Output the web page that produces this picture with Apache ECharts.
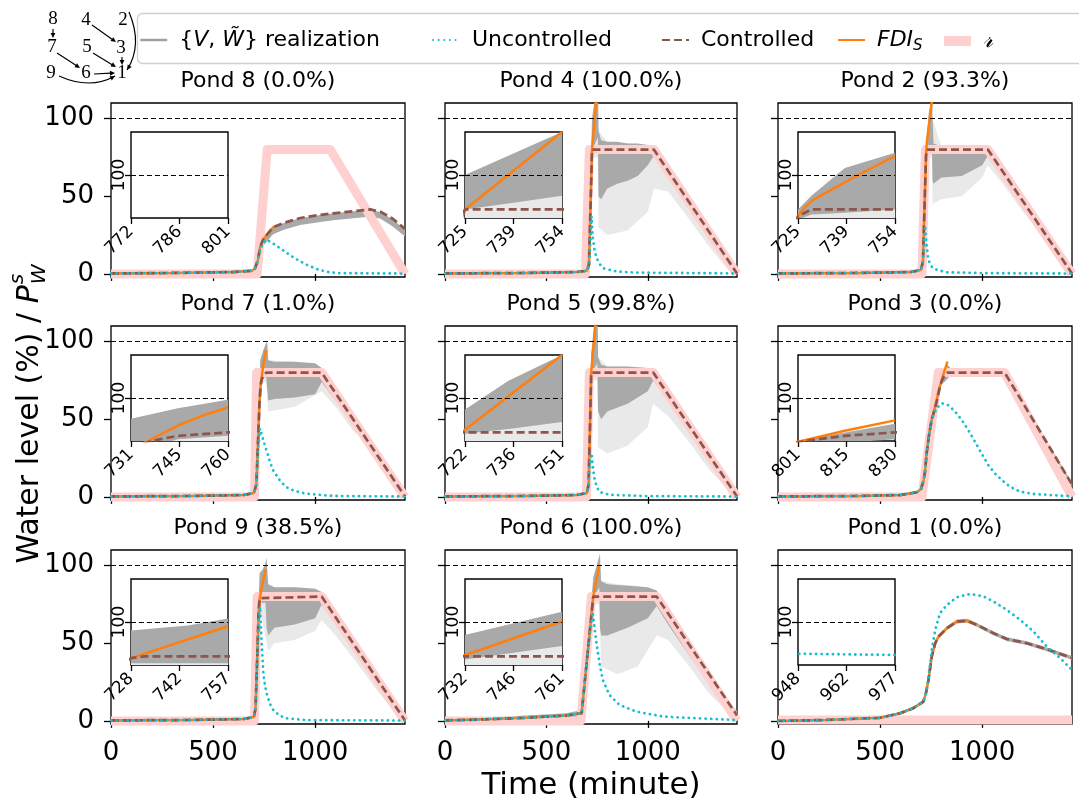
<!DOCTYPE html>
<html><head><meta charset="utf-8">
<script src="https://cdn.jsdelivr.net/npm/echarts@6/dist/echarts.min.js"></script>
<style>html,body{margin:0;padding:0;background:#fff}#c{width:1079px;height:802px}</style>
</head><body><div id="c"></div>
<script>
// ---------------- data ----------------
const PONDS = [8, 4, 2, 7, 5, 3, 9, 6, 1];
const SHARES = ['0.0', '100.0', '93.3', '1.0', '99.8', '0.0', '38.5', '100.0', '0.0'];
const INSET_START = [772, 725, 725, 731, 722, 801, 728, 732, 948];
const X_TICKS = [0, 500, 1000];
const Y_TICKS = [0, 50, 100];
const INSET_Y_TICKS = [100];
const THRESHOLD = 100;

// Pond 8
const ref8 = [[0,0],[716,0],[765,80],[1074,80],[1440,0]];
const ctrl8 = [[0,0.3],[300,0.6],[600,1.2],[690,2],[705,3.5],[720,9],[730,17],[745,22],[765,25.5],[794,30],[850,33],[927,36],[1000,37.5],[1088,39],[1200,40.5],[1270,41.5],[1320,40],[1380,35.5],[1440,29]];
const fdi8 = [[0,0.3],[300,0.6],[600,1.2],[690,2],[705,3.5],[720,9],[730,17],[745,22],[765,25.5],[794,30],[801,30.5]];
const unc8 = [[0,0.3],[300,0.6],[600,1.2],[690,2],[705,3.5],[720,9],[730,15],[745,20],[763,22],[800,19],[862,13.5],[900,10],[960,5.8],[1010,3],[1058,1.3],[1120,0.5],[1440,0.2]];
const dense8 = [[0,-0.3,0.8],[300,0,1],[600,0.7,1.6],[690,1.5,2.5],[705,2.8,4.2],[720,7,10],[730,14,18],[745,18,22.5],[765,21,25.5],[794,25.5,30],[850,28.5,33],[927,31.5,36],[1000,33,37.5],[1088,34.5,39],[1200,36,40.5],[1270,37,41.2],[1320,35.5,39.8],[1380,30.5,35],[1440,24,28.5]];
const light8 = [];
// Pond 4
const ref4 = [[0,0],[692,0],[712,80],[1030,80],[1440,0]];
const ctrl4 = [[0,0.3],[400,0.6],[650,1.2],[700,2],[710,6],[718,45],[725,80],[1030,80],[1440,0.3]];
const fdi4 = [[0,0.3],[400,0.6],[650,1.2],[700,2],[710,6],[718,45],[725,80],[754,125]];
const unc4 = [[0,0.3],[400,0.6],[650,1.2],[700,2],[712,8],[723,37],[728,24],[738,15],[748,10],[765,6],[781,3.6],[847,1.5],[950,0.8],[1440,0.3]];
const dense4 = [[0,0,0.8],[650,0.8,1.6],[700,1.5,2.5],[710,4,8],[718,30,60],[725,80,100],[740,84,113],[754,88,125],[757,50,92],[770,48,86],[800,55,85],[850,58,85],[900,60,84],[950,63,84],[1000,70,83],[1030,76,82],[1100,62,69],[1200,43,50],[1300,24,31],[1400,5,11],[1440,0,2]];
const light4 = [[725,75,100],[754,75,125],[757,30,92],[800,25,85],[900,28,84],[1000,40,83],[1030,55,82],[1100,53,69],[1200,36,50],[1300,18,31],[1400,2,11],[1440,0,2]];
// Pond 2
const ref2 = [[0,0],[705,0],[722,80],[1028,80],[1440,0]];
const ctrl2 = [[0,0.3],[400,0.6],[650,1.2],[700,2.5],[710,8],[718,45],[725,76],[729,80],[1028,80],[1440,0.3]];
const fdi2 = [[0,0.3],[400,0.6],[650,1.2],[700,2.5],[710,8],[718,45],[725,76],[727,81],[729.5,85.5],[743,100],[754,111]];
const unc2 = [[0,0.3],[400,0.6],[650,1.2],[700,2.5],[710,8],[720,31],[728,18],[736,9.5],[750,5],[769,3],[826,1],[1000,0.5],[1440,0.2]];
const dense2 = [[0,0,0.8],[650,0.8,1.6],[700,2,3],[710,6,10],[718,40,50],[725,74,80],[729,77,88],[739,78,104],[754,80,113],[757,60,100],[762,58,84],[800,62,82],[900,63,82],[1000,70,81],[1028,76,81],[1100,64,67],[1200,45,48],[1300,26,29],[1400,7,10],[1440,0,2]];
const light2 = [[725,74,80],[754,75,113],[757,45,100],[800,48,82],[900,50,82],[1000,62,81],[1028,70,81],[1100,58,67],[1200,40,48],[1300,24,29]];
// Pond 7
const ref7 = [[0,0],[703,0],[713,80],[1032,80],[1440,0]];
const ctrl7 = [[0,0.3],[400,0.6],[650,1.2],[700,2.5],[712,8],[720,35],[727,60],[733,72],[737,75],[745,78],[760,80],[1032,80],[1440,0.3]];
const fdi7 = [[0,0.3],[400,0.6],[650,1.2],[700,2.5],[712,8],[720,35],[727,60],[733,72],[736,75],[745,84],[752,89.5],[760,94.5]];
const unc7 = [[0,0.3],[400,0.6],[650,1.2],[700,2.5],[712,8],[720,30],[730,44],[745,37],[762,29.7],[780,22],[795,17],[830,10],[860,6.2],[900,3.8],[958,2],[1090,0.6],[1440,0.2]];
const dense7 = [[0,0,0.8],[650,0.8,1.6],[700,2,3],[712,6,10],[720,30,40],[727,55,70],[731,68,88],[745,76,94],[760,78,99],[765,70,100],[770,62,88],[800,63,87],[900,64,87],[1000,66,86],[1032,74,83],[1100,62,68],[1200,43,48],[1300,25,29],[1400,6,10],[1440,0,2]];
const light7 = [[731,73,88],[760,74,99],[770,55,88],[900,58,87],[1032,68,83],[1100,58,68],[1200,40,48]];
// Pond 5
const ref5 = [[0,0],[697,0],[712,80],[1027,80],[1440,0]];
const ctrl5 = [[0,0.3],[400,0.6],[650,1.2],[700,2.5],[708,8],[715,45],[721,80],[1027,80],[1440,0.3]];
const fdi5 = [[0,0.3],[400,0.6],[650,1.2],[700,2.5],[708,8],[715,45],[721,80],[751,125]];
const unc5 = [[0,0.3],[400,0.6],[650,1.2],[700,2.5],[708,8],[715,22],[723,28],[731,17],[739,10.5],[750,6],[764,3],[813,1.3],[1000,0.5],[1440,0.2]];
const dense5 = [[0,0,0.8],[650,0.8,1.6],[700,2,3],[708,6,10],[715,40,50],[721,79,92],[735,82,110],[751,86,125],[752,80,125],[755,55,90],[770,50,85],[800,55,84],[900,60,84],[1000,68,83],[1027,75,82],[1100,62,67],[1200,43,48],[1300,24,29],[1400,5,10],[1440,0,2]];
const light5 = [[721,75,92],[751,75,125],[755,32,90],[800,28,84],[900,33,84],[1000,45,83],[1027,60,82],[1100,52,67],[1200,36,48],[1300,18,29],[1400,4,10]];
// Pond 3
const ref3 = [[0,0],[705,0],[785,80],[1110,80],[1440,0]];
const ctrl3 = [[0,0.3],[400,0.6],[600,1.2],[680,3],[700,5],[712,10],[720,16],[728,28],[740,40],[753,50],[760,53],[775,60],[790,69],[803,75],[815,78],[830,80],[1110,80],[1440,8]];
const fdi3 = [[0,0.3],[400,0.6],[600,1.2],[680,3],[700,5],[712,10],[720,16],[728,28],[740,40],[753,50],[760,53],[775,61],[790,70],[803,75.5],[815,81],[830,87]];
const unc3 = [[0,0.3],[400,0.6],[600,1.2],[680,3],[700,5],[712,10],[720,16],[728,28],[740,40],[753,50],[777,57],[802,60.3],[834,59],[867,55],[900,49.5],[932,43],[965,35.5],[997,28],[1030,20.5],[1063,15],[1095,11],[1136,6.6],[1185,3.4],[1250,1.9],[1380,0.8],[1440,0.5]];
const dense3 = [[0,0,0.8],[600,0.8,1.6],[680,2.2,3.6],[700,4,6],[712,9,11],[720,15,17],[728,27,29],[740,39,41],[753,49,51],[760,52,54],[775,59,61],[790,68,70],[803,73,76],[815,74,80],[830,76,85],[845,78,83],[860,79,81],[1110,79,81],[1440,7,9]];
const light3 = [];
// Pond 9
const ref9 = [[0,0],[703,0],[716,80],[1032,80],[1440,0]];
const ctrl9 = [[0,0.3],[400,0.6],[650,1.2],[700,2.5],[708,8],[716,40],[723,70],[728,79],[732,80],[1032,80],[1440,0.3]];
const fdi9 = [[0,0.3],[400,0.6],[650,1.2],[700,2.5],[708,8],[716,40],[723,70],[728,79],[757,97.5]];
const unc9 = [[0,0.3],[400,0.6],[650,1.2],[700,2.5],[708,8],[716,40],[723,65],[730,73.5],[738,50],[746,30.6],[754,23],[762,17.8],[778,11],[795,7],[825,3.5],[860,1.6],[958,0.5],[1440,0.2]];
const dense9 = [[0,0,0.8],[650,0.8,1.6],[700,2,3],[708,6,10],[716,35,45],[723,60,78],[728,76,95],[745,76,98],[757,76,102],[762,60,105],[770,55,88],[800,60,86],[900,62,86],[1000,66,85],[1032,75,83],[1100,62,68],[1200,43,48],[1300,25,29],[1400,6,10],[1440,0,2]];
const light9 = [[728,74,95],[770,45,88],[800,50,86],[900,52,86],[1000,58,85],[1032,65,83],[1100,55,68],[1200,38,48],[1300,20,29],[1400,4,10]];
// Pond 6
const ref6 = [[0,0],[670,0],[722,80],[1044,80],[1440,0]];
const ctrl6 = [[0,0.3],[200,1],[400,2],[600,3.5],[674,5],[731,80],[1044,80],[1440,3.5]];
const fdi6 = [[0,0.3],[200,1],[400,2],[600,3.5],[674,5],[731,80],[761,100.3]];
const unc6 = [[0,0.3],[200,1],[400,2],[600,3.5],[674,5],[700,40],[728,70],[745,52],[762,37],[778,26.5],[811,16.7],[860,10.3],[942,6],[1074,2.8],[1238,1.7],[1440,0.6]];
const dense6 = [[0,0,1],[200,0.5,2],[400,1,3.5],[600,2,5],[674,3,7],[700,35,45],[731,78,92],[746,82,99],[761,86,106],[764,60,108],[770,55,90],[800,55,88],[900,60,87],[1000,66,86],[1044,74,84],[1100,62,70],[1200,43,50],[1300,24,31],[1400,7,12],[1440,2,6]];
const light6 = [[731,74,92],[746,75,99],[761,75,106],[770,35,90],[850,30,88],[950,35,87],[1044,55,84],[1100,52,70],[1200,36,50],[1300,18,31],[1440,0,6]];
// Pond 1
const ref1 = [[0,0.5],[1440,0.5]];
const ctrl1 = [[0,0],[238,0.6],[500,2],[598,4.9],[663,8.2],[712,12.4],[725,18],[737,26.3],[753,41.3],[770,50],[786,54.2],[827,59.6],[876,63.9],[925,64.5],[974,61.8],[1056,56.4],[1121,52.7],[1219,50],[1317,46.1],[1440,40.5]];
const fdi1 = [[0,0],[238,0.6],[500,2],[598,4.9],[663,8.2],[712,12.4],[725,18],[737,26.3],[753,41.3],[770,50],[786,54.2],[827,59.6],[876,63.9],[925,64.5],[974,61.8],[977,61.6]];
const unc1 = [[0,0],[238,0.6],[500,2],[598,4.9],[663,8.2],[712,12.4],[725,18],[737,28],[753,45.6],[770,58.5],[793,69.3],[827,74.6],[876,79.6],[941,81.7],[1007,80.1],[1056,76.8],[1121,71.4],[1187,65],[1252,57.4],[1317,47.8],[1383,40.3],[1440,32.8]];
const dense1 = [[0,-0.6,0.6],[238,0,1.2],[500,1.2,2.8],[598,4,5.8],[663,7.3,9.2],[712,11.3,13.5],[725,17,19],[737,25,27.5],[753,40,42.5],[770,49,51.5],[786,53,55.5],[827,58.5,61],[876,62.7,65.2],[925,63.3,65.8],[974,60.6,63],[1056,55.2,57.6],[1121,51.5,53.9],[1219,48.8,51.2],[1317,44.9,47.3],[1440,39.3,41.7]];
const light1 = [];

const DATA = {
  8:{ref:ref8,ctrl:ctrl8,fdi:fdi8,unc:unc8,dense:dense8,light:light8},
  4:{ref:ref4,ctrl:ctrl4,fdi:fdi4,unc:unc4,dense:dense4,light:light4},
  2:{ref:ref2,ctrl:ctrl2,fdi:fdi2,unc:unc2,dense:dense2,light:light2},
  7:{ref:ref7,ctrl:ctrl7,fdi:fdi7,unc:unc7,dense:dense7,light:light7},
  5:{ref:ref5,ctrl:ctrl5,fdi:fdi5,unc:unc5,dense:dense5,light:light5},
  3:{ref:ref3,ctrl:ctrl3,fdi:fdi3,unc:unc3,dense:dense3,light:light3},
  9:{ref:ref9,ctrl:ctrl9,fdi:fdi9,unc:unc9,dense:dense9,light:light9},
  6:{ref:ref6,ctrl:ctrl6,fdi:fdi6,unc:unc6,dense:dense6,light:light6},
  1:{ref:ref1,ctrl:ctrl1,fdi:fdi1,unc:unc1,dense:dense1,light:light1}
};

// ---------------- styling / layout ----------------
const FONT = 'DejaVu Sans';
const PINK = '#ffd0d0', GRAY_D = '#a9a9a9', GRAY_L = '#e9e9e9';
const CYAN = '#17becf', BROWN = '#8c564b', ORANGE = '#ff7f0e';
const COL_LEFT = [111, 445, 778], COL_W = [294, 292, 294];
const ROW_TOP = [103, 326, 550], PANEL_H = 174;

const grids = [], xAxes = [], yAxes = [], series = [], graphic = [];
const tickStyle = {color: '#000', width: 1.3};

function lineS(name, data, g, style, extra) {
  return Object.assign({
    type: 'line', name, data, xAxisIndex: g, yAxisIndex: g,
    symbol: 'none', showSymbol: false, silent: true, clip: true, animation: false,
    emphasis: {disabled: true},
    itemStyle: {color: style.color}, lineStyle: style
  }, extra || {});
}
function bandS(arr, color, g) {
  return {
    type: 'custom', name: 'real', xAxisIndex: g, yAxisIndex: g, silent: true, clip: true,
    animation: false, data: arr.length ? [arr[0]] : [],
    dimensions: ['t', 'lo', 'hi'], encode: {x: 0, y: [1, 2]},
    renderItem(params, api) {
      const up = arr.map(d => api.coord([d[0], d[2]]));
      const lo = arr.map(d => api.coord([d[0], d[1]])).reverse();
      return {type: 'polygon', shape: {points: up.concat(lo)}, style: {fill: color, stroke: null}};
    }
  };
}
const thrLine = {
  silent: true, symbol: ['none', 'none'], animation: false,
  label: {show: false}, emphasis: {disabled: true},
  lineStyle: {color: '#000', type: [5, 3], width: 1.1},
  data: [{yAxis: THRESHOLD}]
};

series.push(lineS('real', [], 0, {color: '#a0a0a0', width: 2.5}));

PONDS.forEach((p, i) => {
  const r = Math.floor(i / 3), c = i % 3;
  const L = COL_LEFT[c], T = ROW_TOP[r], W = COL_W[c];
  const d = DATA[p];
  const gm = 2 * i, gi = 2 * i + 1;
  grids.push({left: L, top: T, width: W, height: PANEL_H, show: true, borderColor: '#000', borderWidth: 1.3, backgroundColor: 'transparent'});
  grids.push({left: L + 20, top: T + 29, width: 97, height: 86, show: true, borderColor: '#000', borderWidth: 1.4, backgroundColor: '#fff'});
  xAxes.push({
    gridIndex: gm, type: 'value', min: 0, max: 1440,
    axisLine: {show: false}, splitLine: {show: false},
    axisTick: {show: true, length: 7, customValues: X_TICKS, lineStyle: tickStyle},
    axisLabel: {show: r === 2, customValues: X_TICKS, fontSize: 26, fontFamily: FONT, color: '#000', margin: 16,
      formatter: v => String(v)},
    name: i === 7 ? 'Time (minute)' : '', nameLocation: 'middle', nameGap: 46,
    nameTextStyle: {fontSize: 31, fontFamily: FONT, color: '#000', verticalAlign: 'top'}
  });
  yAxes.push({
    gridIndex: gm, type: 'value', min: -2, max: 110,
    axisLine: {show: false}, splitLine: {show: false},
    axisTick: {show: true, length: 7, customValues: Y_TICKS, lineStyle: tickStyle},
    axisLabel: {show: c === 0, customValues: Y_TICKS, fontSize: 26, fontFamily: FONT, color: '#000', margin: 17}
  });
  const s = INSET_START[i];
  const iTicks = [s, s + 14.5, s + 29];
  xAxes.push({
    gridIndex: gi, type: 'value', min: s, max: s + 29,
    axisLine: {show: false}, splitLine: {show: false},
    axisTick: {show: true, length: 6, customValues: iTicks, lineStyle: tickStyle},
    axisLabel: {show: true, customValues: iTicks, rotate: 45, fontSize: 17, fontFamily: FONT, color: '#000', margin: 11,
      formatter: v => String(Math.floor(v))}
  });
  yAxes.push({
    gridIndex: gi, type: 'value', min: 75, max: 125,
    axisLine: {show: false}, splitLine: {show: false},
    axisTick: {show: true, length: 6, customValues: INSET_Y_TICKS, lineStyle: tickStyle},
    axisLabel: {show: true, customValues: INSET_Y_TICKS, rotate: 90, fontSize: 17, fontFamily: FONT, color: '#000', margin: 3}
  });
  series.push(lineS('ref', d.ref, gm, {color: PINK, width: 9, join: 'round', cap: 'butt'}));
  series.push(bandS(d.light, GRAY_L, gm));
  series.push(bandS(d.dense, GRAY_D, gm));
  series.push(lineS('fdi', d.fdi, gm, {color: ORANGE, width: 2.5}));
  series.push(lineS('ctrl', d.ctrl, gm, {color: BROWN, width: 2.7, type: [8, 4]}, {markLine: thrLine}));
  series.push(lineS('unc', d.unc, gm, {color: CYAN, width: 2.8, type: [0.1, 5.5], cap: 'round'}));
  series.push(bandS(d.light, GRAY_L, gi));
  series.push(bandS(d.dense, GRAY_D, gi));
  series.push(lineS('fdi', d.fdi, gi, {color: ORANGE, width: 2.5}));
  series.push(lineS('ctrl', d.ctrl, gi, {color: BROWN, width: 2.7, type: [8, 4]}, {markLine: thrLine}));
  series.push(lineS('unc', d.unc, gi, {color: CYAN, width: 2.8, type: [0.1, 5.5], cap: 'round'}));
  graphic.push({type: 'text', x: L + W / 2, y: T - 22, silent: true,
    style: {text: 'Pond ' + p + ' (' + SHARES[i] + '%)', font: '22px "' + FONT + '"', fill: '#000', align: 'center', verticalAlign: 'middle'}});
});

// y-axis label with P_W^s
const cv = document.createElement('canvas').getContext('2d');
function tw(t, f) { cv.font = f; return cv.measureText(t).width; }
const F_MAIN = '30px "' + FONT + '"', F_IT = 'italic 30px "' + FONT + '"', F_SM = 'italic 20px "' + FONT + '"';
const yl1 = 'Water level (%) / ';
const w1 = tw(yl1, F_MAIN), wP = tw('P', F_IT), wS = Math.max(tw('s', F_SM), tw('W', F_SM));
const tot = w1 + wP + wS + 1, x0 = -tot / 2;
graphic.push({type: 'group', x: 30, y: 414, rotation: Math.PI / 2, silent: true, children: [
  {type: 'text', x: x0, y: 0, style: {text: yl1, font: F_MAIN, fill: '#000', align: 'left', verticalAlign: 'middle'}},
  {type: 'text', x: x0 + w1, y: 0, style: {text: 'P', font: F_IT, fill: '#000', align: 'left', verticalAlign: 'middle'}},
  {type: 'text', x: x0 + w1 + wP + 1, y: -12, style: {text: 's', font: F_SM, fill: '#000', align: 'left', verticalAlign: 'middle'}},
  {type: 'text', x: x0 + w1 + wP + 1, y: 10, style: {text: 'W', font: F_SM, fill: '#000', align: 'left', verticalAlign: 'middle'}}
]});

// legend frame
graphic.push({type: 'rect', z: -1, silent: true, shape: {x: 137.5, y: 13.5, width: 1000, height: 50, r: 5},
  style: {fill: '#fff', stroke: '#cfcfcf', lineWidth: 1.3}});

// network diagram
const NET_NODES = [['8',53,19],['4',86,20],['2',123,20],['7',52,47],['5',87,47],['3',121,48],['9',51,73],['6',86,73],['1',122,73]];
NET_NODES.forEach(n => graphic.push({type: 'text', x: n[1], y: n[2], silent: true,
  style: {text: n[0], font: '19px "Liberation Serif"', fill: '#000', align: 'center', verticalAlign: 'middle'}}));
function head(x2, y2, a) {
  const Lh = 5, Wh = 2.4, bx = x2 - Lh * Math.cos(a), by = y2 - Lh * Math.sin(a);
  return {type: 'polygon', silent: true, shape: {points: [[x2, y2], [bx + Wh * Math.sin(a), by - Wh * Math.cos(a)], [bx - Wh * Math.sin(a), by + Wh * Math.cos(a)]]}, style: {fill: '#000'}};
}
[[53,29,53,38],[92,25,116,42],[122,57,122,65],[57,53,80,68],[93,53,116,67],[94,74,115,73]].forEach(a => {
  const ang = Math.atan2(a[3] - a[1], a[2] - a[0]);
  graphic.push({type: 'line', silent: true, shape: {x1: a[0], y1: a[1], x2: a[2] - 4 * Math.cos(ang), y2: a[3] - 4 * Math.sin(ang)}, style: {stroke: '#000', lineWidth: 1.2}});
  graphic.push(head(a[2], a[3], ang));
});
[[59,76,90,90,115,76],[129,12,143,45,127,70]].forEach(b => {
  graphic.push({type: 'bezierCurve', silent: true, shape: {x1: b[0], y1: b[1], cpx1: b[2], cpy1: b[3], x2: b[4], y2: b[5]}, style: {stroke: '#000', lineWidth: 1.2, fill: null}});
  graphic.push(head(b[4], b[5], Math.atan2(b[5] - b[3], b[4] - b[2])));
});

const LEGEND_TEXT = {
  real: '{g| }{{i|V}, {i|W\u0303}} realization',
  unc: '{g| }Uncontrolled',
  ctrl: '{g| }Controlled',
  fdi: '{g| }{i|FDI}{sub|S}',
  ref: '{g| }{r|\u{1D4C7}}'
};
const LEGEND_ITEMS = [
  {name: 'real', lineStyle: {color: '#a0a0a0', width: 2.5, type: 'solid', opacity: 1}, itemStyle: {opacity: 0}},
  {name: 'unc', itemStyle: {opacity: 0}},
  {name: 'ctrl', itemStyle: {opacity: 0}},
  {name: 'fdi', itemStyle: {opacity: 0}},
  {name: 'ref', icon: 'rect', itemStyle: {color: PINK}}
];
const LEGEND_LEFT = [139, 432, 661, 837, 944];
const legends = LEGEND_ITEMS.map((it, k) => ({
  left: LEGEND_LEFT[k], top: 29, orient: 'horizontal', padding: 0,
  data: [it], itemWidth: 27, itemHeight: 10,
  formatter: n => LEGEND_TEXT[n],
  textStyle: {fontSize: 22, fontFamily: FONT, color: '#000',
    rich: {
      g: {width: 7},
      i: {fontStyle: 'italic', fontSize: 22, fontFamily: FONT},
      r: {fontStyle: 'italic', fontSize: 24, fontFamily: FONT},
      sub: {fontStyle: 'italic', fontSize: 15, fontFamily: FONT, verticalAlign: 'bottom', padding: [12, 0, 0, 0]}
    }}
}));

const chart = echarts.init(document.getElementById('c'), null, {renderer: 'canvas'});
chart.setOption({
  animation: false,
  backgroundColor: '#fff',
  legend: legends,
  grid: grids, xAxis: xAxes, yAxis: yAxes, series, graphic
});
</script>
</body></html>
